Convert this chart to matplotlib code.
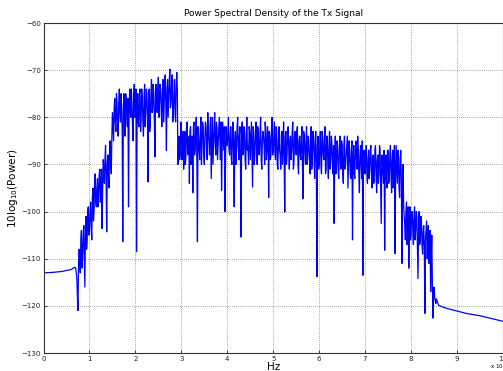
import numpy as np
import matplotlib
matplotlib.use("Agg")
import matplotlib.pyplot as plt

# ---- data (frequency in units of 1e6 Hz, PSD in dB) ----
lead_freq = [0.0, 0.005, 0.2, 0.4, 0.6, 0.68]
lead_psd = [-116.0, -113.0, -112.9, -112.7, -112.3, -111.8]

band_start = 0.70
band_step = 0.025
# PSD on bins band_start + k*band_step
band_psd = [
    # 0.700 - 0.975
    -112, -114, -121, -108, -113, -104, -110, -103, -116, -101, -106, -99,
    # 1.000 - 1.975
    -104, -98, -106, -95, -100, -92, -99, -93, -97, -91, -96, -103.6, -89, -94, -86, -104.3,
    -88, -95, -85, -92, -79, -85, -76, -83, -77, -84, -74, -81, -78, -106.4, -75, -84,
    -76, -82, -99, -74, -80, -77, -85, -73,
    # 2.000 - 2.975
    -79, -108.5, -75, -82, -74, -80, -76, -84, -73, -79, -75, -93.7, -74, -80, -72, -78,
    -75, -88.4, -73, -79, -71.5, -77, -74, -82, -72, -78, -71, -87, -72, -76, -69.8, -77,
    -71, -79, -72, -81, -70.5, -90, -84, -88,
    # 3.000 - 3.975
    -82, -87, -91, -83, -88, -81, -86, -94, -82, -89, -96, -81, -87, -80, -106.4, -84,
    -89, -80, -86, -82, -90, -81, -87, -79, -85, -82, -93, -80, -86, -79, -88, -82,
    -86, -80, -89, -95.5, -81, -87, -100, -82,
    # 4.000 - 4.975
    -86, -80, -88, -82, -90, -81, -99, -83, -87, -80, -89, -82, -105.4, -81, -87, -83,
    -91, -80, -86, -82, -89, -81, -94.8, -83, -88, -81, -90, -84, -87, -80, -91, -83,
    -86, -81, -89, -82, -97, -84, -88, -80,
    # 5.000 - 5.975
    -87, -81, -89, -83, -91, -82, -88, -84, -90, -81, -100.1, -83, -88, -82, -91, -84,
    -87, -81, -90, -83, -88, -82, -92, -84, -89, -82, -97.3, -84, -90, -82, -88, -85,
    -92, -82, -89, -84, -93, -83, -113.8, -84,
    # 6.000 - 6.975
    -90, -83, -92, -84, -89, -82, -91, -84, -93, -83, -89, -85, -92, -102.5, -84, -90,
    -86, -93, -84, -91, -86, -94, -84, -90, -86, -95, -85, -92, -87, -106, -86, -93,
    -85, -91, -87, -96, -86, -93, -113.5, -87,
    # 7.000 - 7.825
    -92, -86, -94, -87, -91, -86, -95, -88, -93, -86, -96, -88, -92, -87, -102.5, -89,
    -94, -108.2, -88, -95, -87, -93, -86, -96, -87, -92, -108.9, -86, -94, -88, -97, -87,
    -111, -90,
    # 7.850 - 8.525
    -101, -106, -98, -104, -112, -99, -105, -100, -107, -99, -104, -101, -114.2, -100,
    -106, -102, -109, -103, -121.6, -104, -110, -103, -108, -117, -105, -122.6, -116, -119,
]

# PSD on the in-between bins band_start + band_step/2 + k*band_step
band_mid_psd = [
    # 0.7125 - 0.9875
    -113, -118, -111, -110, -106, -112, -105, -109, -103, -108, -100, -105,
    # 1.0125 - 1.9875
    -100, -103, -97, -102, -94, -98, -95, -99, -92, -98,
    -91, -95, -91, -89, -93, -90, -92, -87, -90, -84,
    -82, -78, -81, -75, -82, -77, -79, -75, -83, -78,
    -81, -75, -80, -76, -80, -78, -74, -82, -76, -80,
    # 2.0125 - 2.9875
    -74, -78, -81, -75, -83, -74, -81, -76, -82, -74,
    -80, -76, -83, -75, -79, -73, -81, -76, -78, -74,
    -80, -73, -79, -75, -81, -72, -78, -74, -80, -72,
    -78, -73, -81, -75, -79, -73, -74, -86, -89, -81,
    # 3.0125 - 3.9875
    -89, -83, -85, -90, -82, -88, -84, -83, -90, -84,
    -82, -88, -83, -89, -82, -87, -83, -90, -81, -88,
    -84, -82, -89, -84, -88, -80, -86, -90, -82, -86,
    -81, -89, -83, -84, -81, -87, -84, -82, -88, -85,
    # 4.0125 - 4.9875
    -83, -87, -84, -89, -83, -88, -85, -90, -82, -86,
    -84, -91, -83, -88, -82, -89, -84, -87, -90, -83,
    -85, -88, -82, -90, -84, -86, -82, -88, -83, -89,
    -85, -84, -90, -83, -87, -85, -83, -89, -82, -88,
    # 5.0125 - 5.9875
    -84, -88, -82, -90, -85, -87, -91, -83, -86, -89,
    -84, -90, -83, -87, -85, -89, -83, -91, -84, -87,
    -83, -90, -85, -88, -84, -91, -83, -87, -85, -90,
    -84, -89, -86, -91, -83, -88, -85, -90, -86, -91,
    # 6.0125 - 6.9875
    -86, -90, -83, -88, -85, -92, -84, -90, -86, -91,
    -84, -90, -86, -89, -92, -85, -91, -87, -89, -85,
    -92, -86, -91, -88, -84, -90, -87, -93, -85, -89,
    -92, -86, -89, -84, -92, -88, -90, -85, -91, -89,
    # 7.0125 - 7.8375
    -88, -92, -89, -93, -87, -92, -89, -94, -87, -92,
    -89, -94, -86, -95, -88, -92, -87, -91, -93, -87,
    -94, -88, -92, -89, -95, -86, -93, -90, -87, -95,
    -89, -93, -97, -99,
    # 7.8625 - 8.5375
    -103, -100, -107, -99, -103, -106, -100, -104, -101, -106,
    -100, -108, -104, -107, -101, -107, -104, -108, -106, -102,
    -106, -111, -104, -110, -115, -118, -118, -119.5,
]

tail_freq = [8.55, 8.6, 8.7, 8.8, 9.0, 9.2, 9.5, 9.8, 10.0]
tail_psd = [-118.5, -119.9, -120.3, -120.6, -121.1, -121.6, -122.1, -122.8, -123.3]

x_ticks = list(range(0, 11))
y_ticks = list(range(-130, -59, 10))

# ---- assemble series (interleave the two bin grids) ----
n = min(len(band_psd), len(band_mid_psd))
k = np.arange(n)
bf = np.column_stack([band_start + band_step * k,
                      band_start + band_step * (k + 0.5)]).ravel()
bp = np.column_stack([np.asarray(band_psd[:n], float),
                      np.asarray(band_mid_psd[:n], float)]).ravel()
freq = np.concatenate([lead_freq, bf, tail_freq])
psd = np.concatenate([lead_psd, bp, tail_psd])

fig = plt.figure(figsize=(5.03, 3.71), dpi=100)
ax = fig.add_axes([0.0865, 0.0485, 0.9135, 0.8895])

ax.plot(freq, psd, color="#0000ff", linewidth=0.9)

ax.set_xlim(0, 10)
ax.set_ylim(-130, -60)
ax.set_xticks(x_ticks)
ax.set_yticks(y_ticks)
ax.tick_params(direction="in", length=2.5, width=0.6, labelsize=5, pad=2,
               colors="#222222")
ax.grid(True, linestyle=(0, (1, 2)), color="#555555", linewidth=0.5)
for s in ax.spines.values():
    s.set_linewidth(0.8)
    s.set_color("#333333")

ax.set_title("Power Spectral Density of the Tx Signal", fontsize=6.5, pad=5)
ax.set_xlabel("Hz", fontsize=7.5, labelpad=0)
ax.set_ylabel(r"10log$_{10}$(Power)", fontsize=7.5, labelpad=1)
fig.text(0.975, 0.0, r"x 10$^{6}$", fontsize=4, ha="left", va="bottom")

fig.savefig("out.png", dpi=100)
